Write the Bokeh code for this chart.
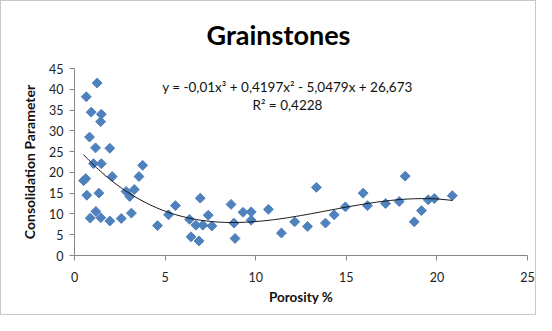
import numpy as np
from bokeh.plotting import figure
from bokeh.models import FixedTicker, Label, Range1d
from bokeh.embed import file_html
from bokeh.resources import INLINE

# Data
porosity = [0.65, 1.25, 0.92, 1.48, 1.44, 0.83, 1.16, 1.95, 1.05, 1.48,
            3.76, 0.5, 0.62, 2.08, 3.56, 0.68, 1.35, 2.85, 3.3, 3.05,
            3.14, 1.18, 0.87, 1.45, 1.95, 2.58, 4.58, 5.19, 5.57, 6.35,
            6.43, 6.87, 6.94, 6.7, 7.08, 7.38, 7.58, 8.64, 8.8, 8.86,
            9.3, 9.75, 9.75, 10.7, 11.42, 12.15, 12.86, 13.35, 13.85, 14.33,
            14.95, 15.93, 16.17, 17.17, 17.92, 18.25, 18.75, 19.15, 19.52, 19.86,
            20.85]
consolidation = [38.2, 41.5, 34.5, 34.0, 32.2, 28.5, 25.9, 25.8, 22.1, 22.1,
                 21.7, 18.0, 18.5, 19.0, 19.0, 14.5, 15.0, 15.4, 15.9, 14.2,
                 10.2, 10.6, 9.0, 9.1, 8.3, 8.9, 7.2, 9.8, 12.0, 8.7,
                 4.5, 3.5, 13.8, 7.3, 7.3, 9.7, 7.1, 12.3, 7.8, 4.1,
                 10.4, 10.5, 8.5, 11.1, 5.4, 8.1, 7.0, 16.4, 7.8, 9.8,
                 11.7, 15.0, 12.0, 12.5, 13.0, 19.1, 8.1, 10.8, 13.4, 13.7,
                 14.4]
# Trendline coefficients (as displayed on chart)
coef = [-0.01, 0.4197, -5.0479, 26.673]
x_ticks = [0, 5, 10, 15, 20, 25]
y_ticks = [0, 5, 10, 15, 20, 25, 30, 35, 40, 45]

FONT = "Lato"

p = figure(width=536, height=315, output_backend="svg", toolbar_location=None,
           x_range=Range1d(0, 25), y_range=Range1d(0, 45),
           min_border_left=73, min_border_right=10, min_border_top=66, min_border_bottom=61)
p.outline_line_color = None
p.xgrid.visible = False
p.ygrid.visible = False
p.background_fill_color = "white"
p.border_fill_color = "white"
p.styles = {"border": "1px solid #c8c8c8", "box-sizing": "border-box"}

p.title.text = "Grainstones"
p.title.align = "left"
p.title.offset = 132
p.title.text_font = FONT
p.title.text_font_size = "27px"
p.title.text_font_style = "bold"
p.title.text_color = "#000000"
p.title.vertical_align = "top"
p.title.standoff = 32

for ax in (p.xaxis[0], p.yaxis[0]):
    ax.axis_line_color = "#868686"
    ax.major_tick_line_color = "#868686"
    ax.minor_tick_line_color = None
    ax.major_tick_in = 0
    ax.major_tick_out = 5
    ax.major_label_text_font = FONT
    ax.major_label_text_font_size = "12.5px"
    ax.major_label_text_color = "#222222"
    ax.axis_label_text_font = FONT
    ax.axis_label_text_font_style = "bold"
    ax.axis_label_text_color = "#111111"

p.xaxis.axis_label_text_font_size = "13.5px"
p.yaxis.axis_label_text_font_size = "14px"
p.xaxis.ticker = FixedTicker(ticks=x_ticks)
p.yaxis.ticker = FixedTicker(ticks=y_ticks)
p.xaxis.axis_label = "Porosity %"
p.yaxis.axis_label = "Consolidation Parameter"
p.xaxis.major_label_standoff = 11
p.xaxis.axis_label_standoff = 4
p.yaxis.major_label_standoff = 6
p.yaxis.axis_label_standoff = 8

p.scatter(porosity, consolidation, marker="square", size=7, angle=np.pi / 4,
          fill_color="#4F81BD", line_color="#4F81BD", line_width=1)

xs = np.linspace(min(porosity), max(porosity), 200)
ys = np.polyval(coef, xs)
p.line(xs, ys, line_color="#111111", line_width=1)

p.add_layout(Label(x=11.75, y=40.6, text="y = -0,01x³ + 0,4197x² - 5,0479x + 26,673",
                   text_align="center", text_baseline="middle", text_font=FONT,
                   text_font_size="13.5px", text_color="#111111"))
p.add_layout(Label(x=11.75, y=36.2, text="R² = 0,4228",
                   text_align="center", text_baseline="middle", text_font=FONT,
                   text_font_size="13.5px", text_color="#111111"))

open("out.html", "w").write(file_html(p, INLINE))
